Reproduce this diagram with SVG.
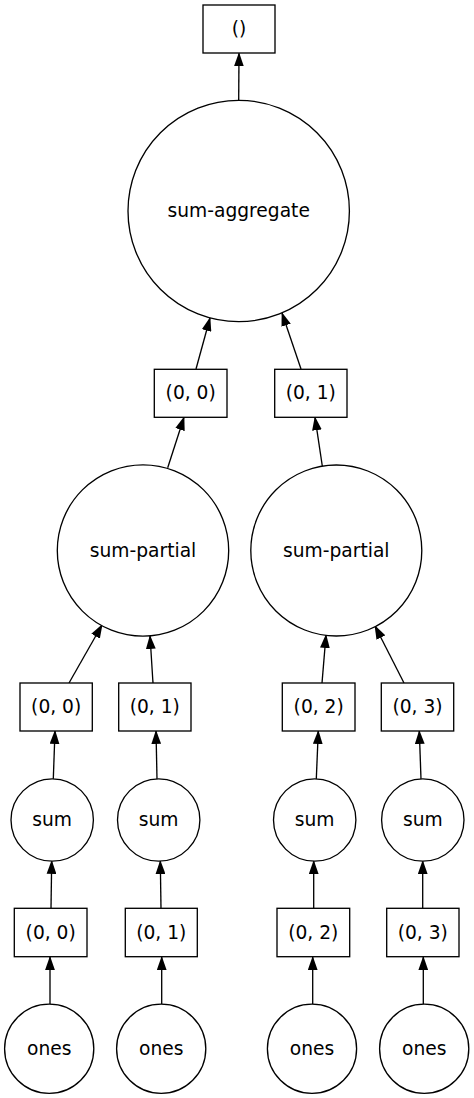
<svg xmlns="http://www.w3.org/2000/svg" width="474" height="1098" viewBox="0 0 474 1098">
<style>
.n{fill:#fff;stroke:#000;stroke-width:1.33}
.t{font-family:"DejaVu Sans",sans-serif;font-size:18.67px;text-anchor:middle;fill:#000}
.e{fill:none;stroke:#000;stroke-width:1.33;marker-end:url(#ah)}
</style>
<defs>
<marker id="ah" markerUnits="userSpaceOnUse" markerWidth="14" markerHeight="10" viewBox="0 0 13.3 9.3" refX="12.3" refY="4.65" orient="auto">
<path d="M0,0 L13.3,4.65 L0,9.3 z" fill="#000"/>
</marker>
</defs>
<rect width="474" height="1098" fill="#fff"/>
<g id="edges">
<path class="e" d="M238.7,100.3 L239,53.3"/>
<path class="e" d="M196,369 L210,318"/>
<path class="e" d="M301,369 L282,313"/>
<path class="e" d="M167.7,467.7 L184,417.3"/>
<path class="e" d="M322.3,466 L315,417.3"/>
<path class="e" d="M69,683 L102,625"/>
<path class="e" d="M153,683 L150,636"/>
<path class="e" d="M322,683 L326,635"/>
<path class="e" d="M404,683 L375,626"/>
<path class="e" d="M53.3,779 L55,731"/>
<path class="e" d="M157,779 L156,731"/>
<path class="e" d="M316.3,779 L318.3,731"/>
<path class="e" d="M421,779 L419.3,731"/>
<path class="e" d="M51,908.3 L51.7,861"/>
<path class="e" d="M161,908.3 L160.3,861"/>
<path class="e" d="M313.7,908.3 L313.7,861"/>
<path class="e" d="M422.7,908.3 L422.7,861"/>
<path class="e" d="M50,1004 L50,957"/>
<path class="e" d="M161.7,1004 L161.7,957"/>
<path class="e" d="M312.7,1004 L312.7,957"/>
<path class="e" d="M423.3,1004 L423.3,957"/>
</g>
<g id="out"><rect class="n" x="203" y="5" width="72" height="48"/><text class="t" x="239" y="35">()</text></g>
<g id="agg"><circle class="n" cx="238.7" cy="211" r="110.7"/><text class="t" x="238.7" y="217">sum-aggregate</text></g>
<g id="p00"><rect class="n" x="154.3" y="369.3" width="72.7" height="48"/><text class="t" x="190.7" y="399.3">(0, 0)</text></g>
<g id="p01"><rect class="n" x="274.7" y="369.3" width="72.3" height="48"/><text class="t" x="310.8" y="399.3">(0, 1)</text></g>
<g id="sp1"><circle class="n" cx="143" cy="550.5" r="85.7"/><text class="t" x="143" y="556.5">sum-partial</text></g>
<g id="sp2"><circle class="n" cx="336.3" cy="550.5" r="85.5"/><text class="t" x="336.3" y="556.5">sum-partial</text></g>
<g id="s00"><rect class="n" x="20" y="683" width="72.3" height="48"/><text class="t" x="56.2" y="713">(0, 0)</text></g>
<g id="s01"><rect class="n" x="118.7" y="683" width="72.3" height="48"/><text class="t" x="154.8" y="713">(0, 1)</text></g>
<g id="s02"><rect class="n" x="282.3" y="683" width="72.7" height="48"/><text class="t" x="318.7" y="713">(0, 2)</text></g>
<g id="s03"><rect class="n" x="381.3" y="683" width="72.4" height="48"/><text class="t" x="417.5" y="713">(0, 3)</text></g>
<g id="sum1"><circle class="n" cx="52.2" cy="820" r="41.2"/><text class="t" x="52.2" y="826">sum</text></g>
<g id="sum2"><circle class="n" cx="158.7" cy="820" r="41.2"/><text class="t" x="158.7" y="826">sum</text></g>
<g id="sum3"><circle class="n" cx="314.7" cy="820" r="41.2"/><text class="t" x="314.7" y="826">sum</text></g>
<g id="sum4"><circle class="n" cx="422.8" cy="820" r="41.2"/><text class="t" x="422.8" y="826">sum</text></g>
<g id="o00"><rect class="n" x="14.3" y="908.3" width="72.7" height="48.4"/><text class="t" x="50.7" y="938.5">(0, 0)</text></g>
<g id="o01"><rect class="n" x="125.3" y="908.3" width="72" height="48.4"/><text class="t" x="161.3" y="938.5">(0, 1)</text></g>
<g id="o02"><rect class="n" x="277" y="908.3" width="72.7" height="48.4"/><text class="t" x="313.3" y="938.5">(0, 2)</text></g>
<g id="o03"><rect class="n" x="386.7" y="908.3" width="72.3" height="48.4"/><text class="t" x="422.8" y="938.5">(0, 3)</text></g>
<g id="ones1"><circle class="n" cx="49.2" cy="1048.7" r="44.6"/><text class="t" x="49.2" y="1054.7">ones</text></g>
<g id="ones2"><circle class="n" cx="161.2" cy="1048.7" r="44.6"/><text class="t" x="161.2" y="1054.7">ones</text></g>
<g id="ones3"><circle class="n" cx="312" cy="1048.7" r="44.6"/><text class="t" x="312" y="1054.7">ones</text></g>
<g id="ones4"><circle class="n" cx="424.2" cy="1048.7" r="44.6"/><text class="t" x="424.2" y="1054.7">ones</text></g>
</svg>
